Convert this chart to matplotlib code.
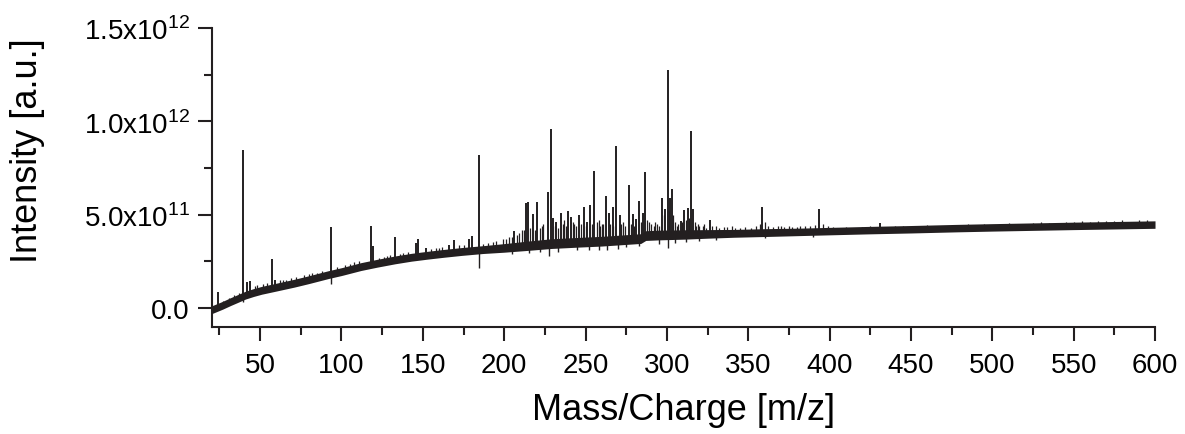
import numpy as np
import matplotlib
matplotlib.use('Agg')
from matplotlib import pyplot as plt
from matplotlib.ticker import MultipleLocator

plt.rcParams['font.family'] = ['Liberation Sans', 'DejaVu Sans']
plt.rcParams['mathtext.fontset'] = 'custom'
plt.rcParams['mathtext.rm'] = 'Liberation Sans'

# baseline of the spectrum (m/z, intensity in 1e12)
base_mz = [20, 22, 27, 32, 36, 41, 46, 51, 60, 71, 80, 92, 100, 112, 122, 133, 143, 153,
           163, 174, 187, 200, 215, 229, 245, 260, 272, 284, 287, 295, 311, 325, 341,
           360, 382, 400, 423, 450, 478, 500, 550, 600]
base_int = [-0.01, -0.003, 0.015, 0.035, 0.05, 0.069, 0.083, 0.095, 0.112, 0.133, 0.152,
            0.179, 0.195, 0.222, 0.24, 0.258, 0.272, 0.283, 0.293, 0.303, 0.313, 0.322,
            0.334, 0.345, 0.352, 0.358, 0.365, 0.372, 0.388, 0.391, 0.394, 0.397, 0.40,
            0.404, 0.408, 0.412, 0.417, 0.422, 0.428, 0.432, 0.44, 0.447]
# half width of the noise band (1e12)
noise_hw = [0.021] * 21 + [0.023, 0.025, 0.026, 0.026, 0.026, 0.026, 0.026, 0.026,
                           0.026, 0.025, 0.023] + [0.021, 0.021] + [0.02] * 8

# peaks (m/z, top intensity in 1e12)
peak_mz = [24, 39.5, 42, 44, 57.3, 59, 93.5, 118, 119.5, 133, 145.5, 147, 152, 166, 169,
           178.5, 180.5, 184.5, 206, 213.5, 214.5, 217.7, 220, 226.7, 228.5, 230, 232,
           235, 239, 241, 246, 249, 251, 252.6, 255, 262.8, 264.7, 266.8, 268.8, 271,
           276.8, 279, 281, 282.7, 285.6, 286.7, 296.9, 299, 300.5, 302, 303, 308.7,
           310.7, 312.8, 314.7, 316, 326.5, 358.3, 393.7, 430.7]
peak_top = [0.085, 0.849, 0.14, 0.145, 0.265, 0.15, 0.433, 0.442, 0.33, 0.38, 0.35, 0.37,
            0.32, 0.34, 0.367, 0.37, 0.385, 0.818, 0.41, 0.565, 0.567, 0.506, 0.569,
            0.622, 0.961, 0.48, 0.46, 0.51, 0.52, 0.49, 0.50, 0.54, 0.46, 0.55, 0.733,
            0.60, 0.51, 0.54, 0.867, 0.50, 0.66, 0.506, 0.478, 0.572, 0.51, 0.727, 0.59,
            0.53, 1.277, 0.59, 0.638, 0.465, 0.524, 0.537, 0.947, 0.53, 0.47, 0.542,
            0.531, 0.456]

# small noise spikes
grass_mz = [27, 31, 34, 37, 47, 48, 52, 54, 62, 64, 66, 69, 72, 77, 80, 82, 85, 88, 97,
            102, 105, 108, 111, 123, 126, 128, 130, 136, 138, 141, 155, 158, 160, 162,
            172, 175, 187, 190, 193, 195, 199, 201, 203, 205, 208, 209, 211, 212, 216,
            219, 222, 223, 224, 231, 233, 236, 237, 238, 242, 243, 244, 247, 250, 254,
            257, 258, 259, 260, 261, 265, 267, 272, 273, 274, 278, 280, 284, 288, 289,
            290, 292, 293, 294, 295, 298, 301.5, 304, 305, 306, 307, 309.5, 311.5,
            313.5, 317, 318, 319, 320, 322, 323, 324, 328, 330, 332, 335, 337, 340, 342,
            345, 348, 352, 355, 357, 360, 362, 365, 368, 370, 372, 375, 377, 380, 382,
            385, 388, 391, 396, 399, 402, 405, 410, 415, 420, 425, 435, 440, 445, 455,
            460, 465, 470, 480, 485, 490, 495, 505, 510, 515, 520, 525, 530, 535, 540,
            545, 550, 555, 560, 565, 570, 575, 580, 583, 590, 595]
grass_top = [0.04, 0.055, 0.07, 0.08, 0.12, 0.125, 0.13, 0.135, 0.15, 0.15, 0.15, 0.16,
             0.165, 0.175, 0.18, 0.185, 0.19, 0.2, 0.22, 0.23, 0.235, 0.245, 0.25, 0.27,
             0.275, 0.28, 0.285, 0.29, 0.295, 0.30, 0.315, 0.32, 0.32, 0.325, 0.335, 0.34,
             0.345, 0.35, 0.355, 0.36, 0.37, 0.37, 0.38, 0.38, 0.39, 0.40, 0.42, 0.42,
             0.43, 0.42, 0.43, 0.44, 0.45, 0.44, 0.43, 0.45, 0.47, 0.44, 0.46, 0.45, 0.44,
             0.45, 0.44, 0.45, 0.46, 0.47, 0.44, 0.45, 0.45, 0.45, 0.44, 0.45, 0.46,
             0.44, 0.45, 0.44, 0.46, 0.47, 0.46, 0.45, 0.44, 0.46, 0.45, 0.44, 0.50,
             0.52, 0.50, 0.46, 0.44, 0.45, 0.46, 0.47, 0.48, 0.46, 0.44, 0.45, 0.44,
             0.44, 0.45, 0.43, 0.44, 0.44, 0.43, 0.435, 0.435, 0.44, 0.43, 0.43, 0.435,
             0.43, 0.44, 0.45, 0.46, 0.44, 0.435, 0.44, 0.44, 0.435, 0.44, 0.435, 0.435,
             0.44, 0.44, 0.44, 0.445, 0.45, 0.44, 0.435, 0.43, 0.435, 0.43, 0.435,
             0.44, 0.435, 0.44, 0.44, 0.44, 0.445, 0.44, 0.44, 0.445, 0.45, 0.445, 0.45,
             0.45, 0.455, 0.45, 0.45, 0.455, 0.46, 0.455, 0.455, 0.46, 0.46, 0.465,
             0.46, 0.465, 0.465, 0.465, 0.47, 0.46, 0.47, 0.47]

# downward spikes (m/z, bottom intensity in 1e12)
dip_mz = [39.5, 93.5, 184.5, 205, 215, 222, 227.5, 233, 245, 252, 258, 263, 270, 275,
          283, 295, 300.5, 305, 312, 320, 330, 360, 390]
dip_bot = [0.03, 0.126, 0.215, 0.29, 0.295, 0.30, 0.277, 0.30, 0.31, 0.31, 0.31, 0.31,
           0.315, 0.325, 0.33, 0.345, 0.32, 0.35, 0.355, 0.36, 0.365, 0.375, 0.38]

ytick_vals = [0, 0.5e12, 1.0e12, 1.5e12]
ytick_labels = ['0.0', r'5.0x10$^{11}$', r'1.0x10$^{12}$', r'1.5x10$^{12}$']

col = '#231f20'
scale = 1e12
bm = np.array(base_mz)
bi = np.array(base_int) * scale
hw = np.array(noise_hw) * scale

fig = plt.figure(figsize=(11.85, 4.35), dpi=100)
ax = fig.add_axes([0.179, 0.2467, 0.7957, 0.6866])

ax.fill_between(bm, bi - hw, bi + hw, color=col, lw=0)
ax.plot(bm, bi, color=col, lw=1.0)

pk_base = np.interp(peak_mz, bm, bi)
ax.vlines(peak_mz, pk_base, np.array(peak_top) * scale, color=col, lw=1.4)
gr_base = np.interp(grass_mz, bm, bi)
ax.vlines(grass_mz, gr_base, np.array(grass_top) * scale, color=col, lw=0.9)
dp_base = np.interp(dip_mz, bm, bi)
ax.vlines(dip_mz, np.array(dip_bot) * scale, dp_base, color=col, lw=1.0)

ax.set_xlim(20.5, 600)
ax.set_ylim(-1.0e11, 1.5e12)
ax.spines['top'].set_visible(False)
ax.spines['right'].set_visible(False)
for s in ['left', 'bottom']:
    ax.spines[s].set_linewidth(1.5)
    ax.spines[s].set_color(col)

ax.set_xticks(range(50, 601, 50))
ax.xaxis.set_minor_locator(MultipleLocator(25))
ax.set_yticks(ytick_vals)
ax.set_yticklabels(ytick_labels)
ax.yaxis.set_minor_locator(MultipleLocator(2.5e11))
ax.tick_params(which='major', direction='out', length=10, width=1.5, labelsize=20,
               pad=6, color=col)
ax.tick_params(axis='x', which='major', pad=8)
ax.tick_params(which='minor', direction='out', length=5.5, width=1.5, color=col)

ax.set_xlabel('Mass/Charge [m/z]', fontsize=26, labelpad=10)
ax.set_ylabel('Intensity [a.u.]', fontsize=26)
ax.yaxis.set_label_coords(-0.177, 0.592)

plt.savefig('out.png', dpi=100)
